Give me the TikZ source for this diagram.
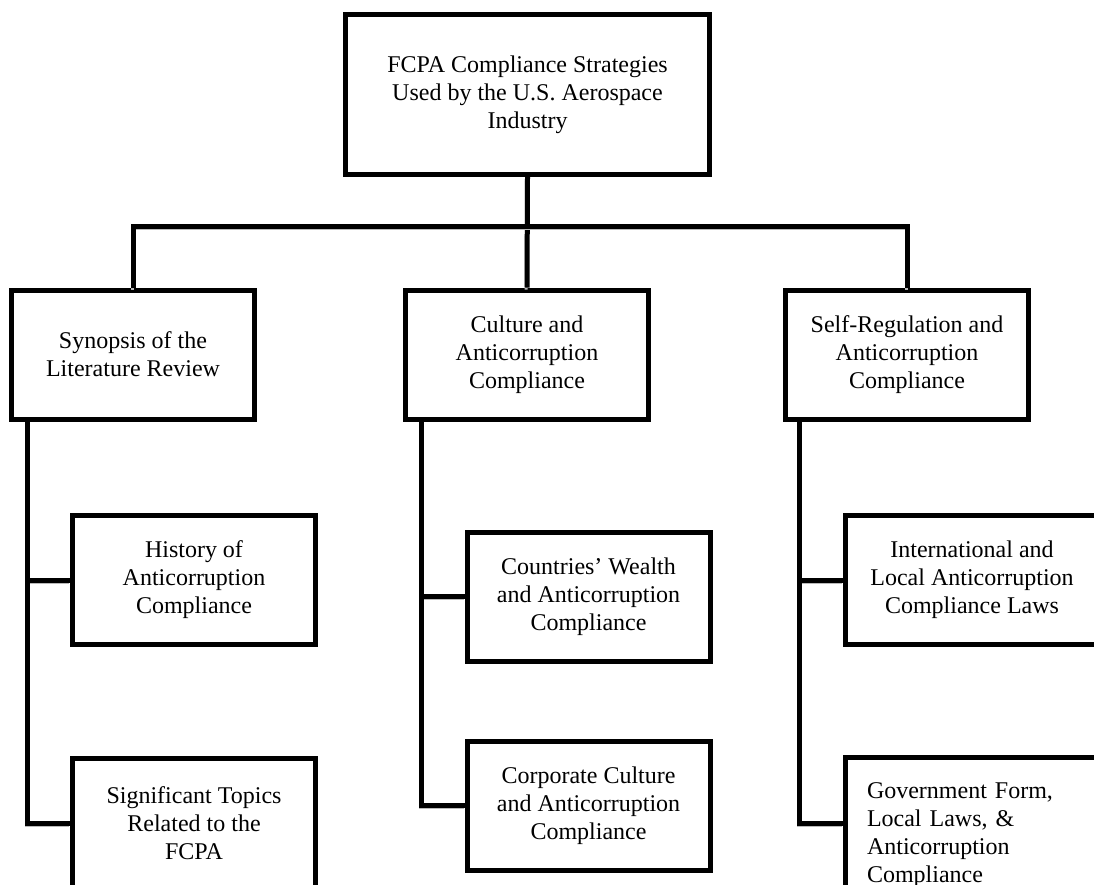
\documentclass[tikz,border=0pt]{standalone}
\usepackage{fontspec}
\setmainfont{Liberation Serif}
\tikzset{
	topicbox/.style = {draw=black, line width=5pt, align=center, inner sep=0pt, minimum width=243pt, minimum height=129pt, font=\fontsize{24}{28}\selectfont},
	rootbox/.style = {topicbox, minimum width=364pt, minimum height=160pt},
	widebox/.style = {topicbox, minimum width=253pt},
	leftbox/.style = {widebox, align=left, text width=210pt, execute at begin node={\rule{0pt}{41pt}}},
	link/.style = {line width=5pt, preaction={draw=gray!55, line width=3pt, transform canvas={shift={(-1pt,-2pt)}}}}
}
\begin{document}
\begin{tikzpicture}[x=1pt, y=-1pt]
\useasboundingbox (0,0) rectangle (1094,884);
% root and first level
\node [rootbox] (root) at (527.5,94.5) {FCPA Compliance Strategies\\ Used by the U.S. Aerospace\\ Industry};
\node [topicbox] (synopsis) at (133,354.5) {Synopsis of the\\ Literature Review};
\node [topicbox] (culture) at (527,354.5) {Culture and\\ Anticorruption\\ Compliance};
\node [topicbox] (selfreg) at (907,354.5) {Self-Regulation and\\ Anticorruption\\ Compliance};
% second level
\node [topicbox] (history) at (194,580) {History of\\ Anticorruption\\ Compliance};
\node [topicbox] (topics) at (194,823) {Significant Topics\\ Related to the\\ FCPA};
\node [topicbox] (wealth) at (588.5,596.5) {Countries’ Wealth\\ and Anticorruption\\ Compliance};
\node [topicbox] (corporate) at (588.5,805.5) {Corporate Culture\\ and Anticorruption\\ Compliance};
\node [widebox] (laws) at (972,580) {International and\\ Local Anticorruption\\ Compliance Laws};
\node [leftbox] (government) at (972,823) {Government Form,\\ Local Laws, \&\\ Anticorruption\\ Compliance};
% connectors
\coordinate (fork) at (527,226);
\draw [link] (root.south) -- (culture.north);
\draw [link] (synopsis.north) |- (fork) -| (selfreg.north);
\draw [link] ([xshift=18pt]synopsis.south west) |- (history.west);
\draw [link] ([xshift=18pt]synopsis.south west) |- (topics.west);
\draw [link] ([xshift=18pt]culture.south west) |- (wealth.west);
\draw [link] ([xshift=18pt]culture.south west) |- (corporate.west);
\draw [link] ([xshift=16pt]selfreg.south west) |- (laws.west);
\draw [link] ([xshift=16pt]selfreg.south west) |- (government.west);
\end{tikzpicture}
\end{document}
